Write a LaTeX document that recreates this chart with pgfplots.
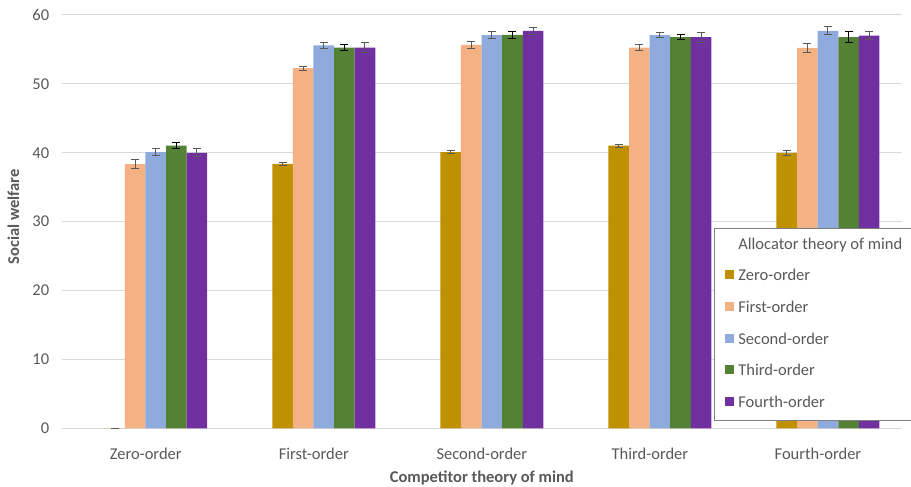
\documentclass[border=0pt]{standalone}
\usepackage{fontspec}
\setmainfont{Carlito}
\usepackage{pgfplots}
\pgfplotsset{compat=1.18}
\definecolor{czero}{HTML}{BF9000}
\definecolor{cfirst}{HTML}{F4B183}
\definecolor{csecond}{HTML}{8FAADC}
\definecolor{cthird}{HTML}{548235}
\definecolor{cfourth}{HTML}{7030A0}
\definecolor{txt}{HTML}{595959}
\definecolor{gridc}{HTML}{D9D9D9}
\pgfplotsset{
  sq/.style={legend image code/.code={\fill[##1] (0pt,1.5pt) rectangle (9pt,10.5pt);}},
  errg/.style={error bars/.cd, y dir=both, y explicit,
    error bar style={line width=1pt, draw=#1},
    error mark options={rotate=90, mark size=4pt, line width=1pt, draw=#1}},
}
\begin{document}
\begin{tikzpicture}
\path[use as bounding box] (0,0) rectangle (911pt,487pt);
\begin{axis}[
  at={(61.7pt,58.7pt)}, anchor=south west,
  scale only axis, width=840.3pt, height=413.3pt,
  ybar, bar width=20.6pt,
  xmin=-0.5, xmax=4.5, ymin=0, ymax=60,
  xtick={0,1,2,3,4},
  xticklabels={Zero-order,First-order,Second-order,Third-order,Fourth-order},
  ytick={0,10,...,60},
  ymajorgrids, major grid style={draw=gridc, line width=1pt},
  axis line style={draw=none}, tick style={draw=none},
  font=\fontsize{16.5}{19}\selectfont,
  ticklabel style={text=txt},
  /pgf/number format/assume math mode=true,
  xticklabel style={anchor=base, yshift=-27.3pt},
  yticklabel style={anchor=east, xshift=-9pt},
  xlabel={\textbf{Competitor theory of mind}},
  ylabel={\textbf{Social welfare}},
  label style={text=txt},
  xlabel style={at={(axis description cs:0.5,-0.1305)}, anchor=base},
  ylabel style={at={(axis description cs:-0.0575,0.512)}, anchor=center},
  legend cell align=left,
  legend style={at={(0.7766,0.4839)}, anchor=north west, draw=black!50, fill=white,
    line width=0.8pt, inner xsep=10.7pt, inner ysep=9pt, row sep=16.4pt, column sep=4pt,
    font=\fontsize{16.5}{19}\selectfont,
    nodes={inner sep=0pt, text height=11.6pt, text depth=3.6pt, anchor=base west, text=txt}},
]
\addlegendimage{empty legend}
\addlegendentry{Allocator theory of mind}
\addplot[fill=czero, draw=none, bar shift=-31.2pt, sq, errg=txt] coordinates {
 (0,0) +- (0,0) (1,38.37) +- (0,0.25) (2,40.1) +- (0,0.22) (3,41.03) +- (0,0.22) (4,39.97) +- (0,0.34)};
\addlegendentry{Zero-order}
\addplot[fill=cfirst, draw=none, bar shift=-10.6pt, sq, errg=txt] coordinates {
 (0,38.35) +- (0,0.6) (1,52.28) +- (0,0.3) (2,55.65) +- (0,0.45) (3,55.28) +- (0,0.4) (4,55.22) +- (0,0.6)};
\addlegendentry{First-order}
\addplot[fill=csecond, draw=none, bar shift=10pt, sq, errg=txt] coordinates {
 (0,40.1) +- (0,0.5) (1,55.6) +- (0,0.45) (2,57.07) +- (0,0.5) (3,57.08) +- (0,0.4) (4,57.7) +- (0,0.58)};
\addlegendentry{Second-order}
\addplot[fill=cthird, draw=none, bar shift=30.6pt, sq, errg=black] coordinates {
 (0,41.05) +- (0,0.45) (1,55.28) +- (0,0.5) (2,57.1) +- (0,0.45) (3,56.8) +- (0,0.3) (4,56.8) +- (0,0.8)};
\addlegendentry{Third-order}
\addplot[fill=cfourth, draw=none, bar shift=51.2pt, sq, errg=txt] coordinates {
 (0,40.0) +- (0,0.6) (1,55.26) +- (0,0.7) (2,57.7) +- (0,0.55) (3,56.8) +- (0,0.73) (4,57.0) +- (0,0.6)};
\addlegendentry{Fourth-order}
\end{axis}
\end{tikzpicture}
\end{document}
